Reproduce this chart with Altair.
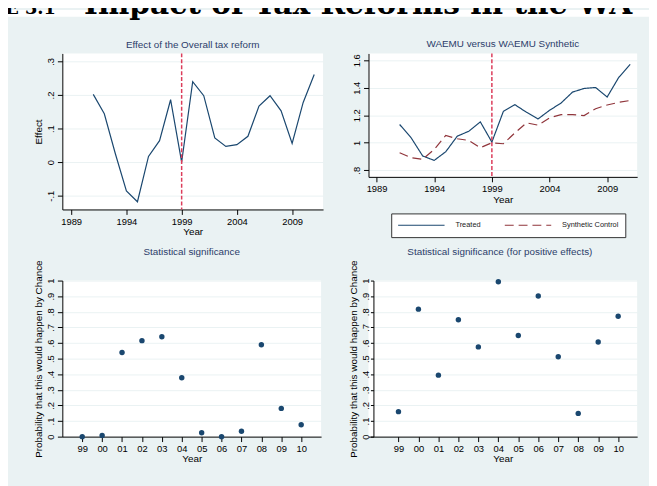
import altair as alt
import pandas as pd

# ---------------- data ----------------
years = list(range(1991, 2012))
effect = [0.202, 0.144, 0.025, -0.086, -0.118, 0.017, 0.064, 0.186, 0.0, 0.240, 0.198,
          0.072, 0.047, 0.052, 0.077, 0.167, 0.198, 0.153, 0.056, 0.178, 0.261]
treated = [1.133, 1.036, 0.904, 0.872, 0.935, 1.048, 1.084, 1.152, 1.005, 1.229, 1.277,
           1.222, 1.173, 1.236, 1.289, 1.369, 1.395, 1.402, 1.333, 1.475, 1.571]
synthetic = [0.928, 0.892, 0.880, 0.952, 1.053, 1.029, 1.017, 0.964, 1.000, 0.993, 1.072,
             1.145, 1.128, 1.181, 1.205, 1.205, 1.198, 1.248, 1.275, 1.294, 1.308]
series_names = ["Treated", "Synthetic Control"]
reform_year = [1999]
sig_years = list(range(1999, 2011))
p_all = [0.0, 0.008, 0.539, 0.615, 0.640, 0.377, 0.025, 0.0, 0.034, 0.589, 0.181, 0.076]
p_pos = [0.160, 0.817, 0.394, 0.749, 0.575, 0.992, 0.648, 0.901, 0.512, 0.149, 0.606, 0.771]
caption_left = ["FIGURE 3.1"]
caption_right = ["Impact of Tax Reforms in the WAEMU"]

# ---------------- styles ----------------
BG = "#eaf2f3"
NAVY = "#1a476f"
MAROON = "#90353b"
RED = "#dc3c5a"
TITLE = "#2c3d6a"
FONT = "Liberation Sans"

lab_expr = ("datum.value == 0 ? '0' : (abs(datum.value) < 1 ? "
            "(datum.value < 0 ? '-' : '') + slice(format(abs(datum.value), '~g'), 1) : "
            "format(datum.value, '~g'))")


def yaxis(values, title, label_pad=2, tick=5, offset=0):
    return alt.Axis(values=values, labelExpr=lab_expr, labelAngle=270, labelAlign="center",
                    labelBaseline="bottom", labelPadding=label_pad, tickSize=tick, title=title,
                    titlePadding=2, grid=True, offset=offset)


def xaxis_years(values):
    return alt.Axis(values=values, format="d", grid=False, title="Year", titlePadding=1)


def bg_rect(x0, x1, y0, y1, color=BG):
    return alt.Chart(pd.DataFrame({"a": [0]})).mark_rect(color=color).encode(
        x=alt.value(x0), x2=alt.value(x1), y=alt.value(y0), y2=alt.value(y1))


def ptitle(text, offset, dx=0):
    return alt.TitleParams(text, offset=offset, dx=dx)


tiny_view = alt.ViewBackground(fill=BG, strokeWidth=0)

# ---------------- row 0: page caption strip (cropped at the top) ----------------
strip = bg_rect(-55, 594, 29, 36, "white")
cap1 = alt.Chart(pd.DataFrame({"t": caption_left})).mark_text(
    align="left", baseline="top", font="DejaVu Serif", fontSize=18,
    fontWeight="bold", color="black").encode(x=alt.value(-125), y=alt.value(19), text="t:N")
cap2 = alt.Chart(pd.DataFrame({"t": caption_right})).mark_text(
    align="left", baseline="top", font="DejaVu Serif", fontSize=30, limit=572, ellipsis=" ",
    fontWeight="bold", color="black").encode(x=alt.value(22), y=alt.value(9), text="t:N")
caption_cell = alt.layer(strip, cap1, cap2).properties(width=1, height=1, view=tiny_view)
blank_cell = bg_rect(0, 1, 0, 1).properties(width=1, height=1, view=tiny_view)

# ---------------- top-left: effect ----------------
df_eff = pd.DataFrame({"Year": years, "Effect": effect})
tl_x = alt.X("Year:Q", scale=alt.Scale(domain=[1988.2, 2011.8], nice=False, zero=False),
             axis=xaxis_years([1989, 1994, 1999, 2004, 2009]))
tl_line = alt.Chart(df_eff).mark_line(color=NAVY, strokeWidth=1.2).encode(
    x=tl_x,
    y=alt.Y("Effect:Q", scale=alt.Scale(domain=[-0.141, 0.324], nice=False, zero=False),
            axis=yaxis([-0.1, 0, 0.1, 0.2, 0.3], "Effect")))
tl_rule = alt.Chart(pd.DataFrame({"Year": reform_year})).mark_rule(
    color=RED, strokeDash=[4, 2], strokeWidth=1.5).encode(x="Year:Q")
top_left = alt.layer(tl_line, tl_rule).properties(
    width=264, height=158, title=ptitle("Effect of the Overall tax reform", 3))

# ---------------- top-right: WAEMU vs synthetic ----------------
df_w = pd.DataFrame({"Year": years * 2, "Value": treated + synthetic,
                     "Series": [series_names[0]] * len(years) + [series_names[1]] * len(years)})
leg = alt.Legend(orient="none", legendX=23, legendY=162, direction="horizontal", title=None,
                 symbolType="stroke", symbolSize=2209, symbolStrokeWidth=1.2, clipHeight=12,
                 labelFontSize=7.5, labelOffset=10, columnPadding=23, padding=6,
                 fillColor="white", strokeColor="#333333", labelColor="#222222",
                 labelFont=FONT)
tr_x = alt.X("Year:Q", scale=alt.Scale(domain=[1988.3, 2011.6], nice=False, zero=False),
             axis=xaxis_years([1989, 1994, 1999, 2004, 2009]))
tr_lines = alt.Chart(df_w).mark_line(strokeWidth=1.2).encode(
    x=tr_x,
    y=alt.Y("Value:Q", scale=alt.Scale(domain=[0.752, 1.650], nice=False, zero=False),
            axis=yaxis([0.8, 1.0, 1.2, 1.4, 1.6], None)),
    color=alt.Color("Series:N", scale=alt.Scale(domain=series_names, range=[NAVY, MAROON]),
                    legend=leg),
    strokeDash=alt.StrokeDash("Series:N", scale=alt.Scale(domain=series_names,
                                                          range=[[1, 0], [9, 5]]), legend=leg),
)
tr_rule = alt.Chart(pd.DataFrame({"Year": reform_year})).mark_rule(
    color=RED, strokeDash=[4, 2], strokeWidth=1.5).encode(x="Year:Q")
top_right = alt.layer(tr_lines, tr_rule).properties(
    width=272, height=125, title=ptitle("WAEMU versus WAEMU Synthetic", 4))

# ---------------- bottom: significance ----------------
df_sig = pd.DataFrame({"Year": sig_years, "All": p_all, "Pos": p_pos})
prob_title = "Probability that this would happen by Chance"
ytick = [0, 0.1, 0.2, 0.3, 0.4, 0.5, 0.6, 0.7, 0.8, 0.9, 1]


def sig_points(field, domain, label_pad, tick, offset):
    return alt.Chart(df_sig).mark_circle(size=30, color=NAVY, opacity=1).encode(
        x=alt.X("Year:Q", scale=alt.Scale(domain=domain, nice=False, zero=False),
                axis=alt.Axis(values=sig_years, labelExpr="slice(toString(datum.value), 2)",
                              grid=False, title="Year", titlePadding=1)),
        y=alt.Y(f"{field}:Q", scale=alt.Scale(domain=[0, 1], nice=False),
                axis=yaxis(ytick, prob_title, label_pad=label_pad, tick=tick, offset=offset)))


page_bottom = bg_rect(-55, -54, 204, 205)
bottom_left = alt.layer(page_bottom, sig_points("All", [1998.0, 2011.0], 2, 5, 0)).properties(
    width=262, height=158, title=ptitle("Statistical significance", 3))
bottom_right = sig_points("Pos", [1997.5, 2010.95], 0, 3, -5).properties(
    width=272, height=158,
    title=ptitle("Statistical significance (for positive effects)", 3, dx=-3))

chart = alt.concat(
    caption_cell, blank_cell, top_left, top_right, bottom_left, bottom_right,
    columns=2, spacing={"row": 72, "column": 46}, bounds="flush", align="each"
).resolve_scale(
    color="independent", strokeDash="independent"
).properties(padding={"left": -70, "top": -30, "right": 0, "bottom": 0}).configure(
    background=BG, font=FONT
).configure_view(fill="white", strokeWidth=0).configure_axis(
    domainColor="black", domainWidth=1, tickColor="black", tickWidth=1,
    labelFontSize=9.5, labelColor="black", labelFont=FONT,
    titleFontSize=10, titleFontWeight="normal", titleColor="black", titleFont=FONT,
    gridColor=BG, gridWidth=1
).configure_title(
    fontSize=10, fontWeight="normal", color=TITLE, anchor="middle", font=FONT
)

chart.save("out.html", embed_options={"renderer": "svg", "actions": False})
